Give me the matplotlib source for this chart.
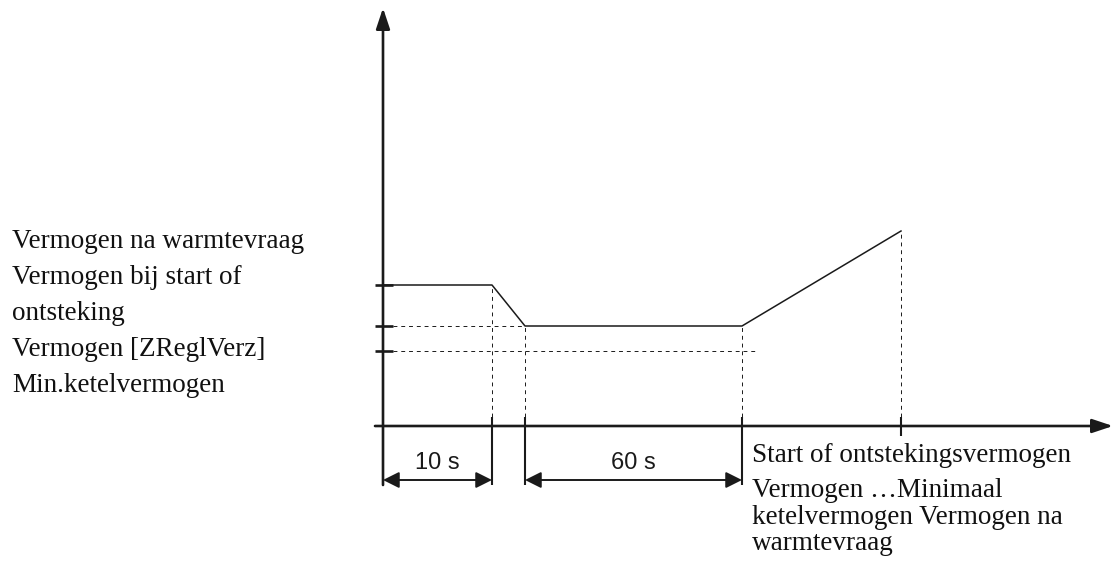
import matplotlib.pyplot as plt

# schematic time points (y-axis at 0) and power levels (x-axis at 0)
t_points = [0.0, 1.09, 1.42, 3.59, 5.18]
p_start = 1.41      # Vermogen bij start of ontsteking
p_regl = 1.00       # Vermogen [ZReglVerz]
p_min = 0.75        # Min.ketelvermogen
p_end = 1.95        # Vermogen na warmtevraag
power = [p_start, p_start, p_regl, p_regl, p_end]

left_labels = ["Vermogen na warmtevraag", "Vermogen bij start of", "ontsteking",
               "Vermogen [ZReglVerz]", "Min.ketelvermogen"]
right_labels = ["Start of ontstekingsvermogen", "Vermogen \u2026Minimaal",
                "ketelvermogen Vermogen na", "warmtevraag"]
intervals = [(t_points[0], t_points[1], "10 s"), (t_points[2], t_points[3], "60 s")]

fig = plt.figure(figsize=(11.14, 5.63), dpi=100)
ax = fig.add_axes([0, 0, 1, 1])
ax.set_xlim(-3.83, 7.31)
ax.set_ylim(-1.37, 4.26)
ax.axis('off')

axis_lw = 1.9
ext_bottom, ext_top = -0.59, 0.09
arrow_y = -0.54

# axes with arrow heads
ax.annotate('', xy=(0, 4.18), xytext=(0, ext_bottom),
            arrowprops=dict(arrowstyle='-|>,head_length=0.9,head_width=0.3',
                            mutation_scale=14, lw=axis_lw, color='#1a1a1a',
                            shrinkA=0, shrinkB=0))
ax.annotate('', xy=(7.30, 0), xytext=(-0.08, 0),
            arrowprops=dict(arrowstyle='-|>,head_length=0.9,head_width=0.3',
                            mutation_scale=14, lw=axis_lw, color='#1a1a1a',
                            shrinkA=0, shrinkB=0))

# y ticks at the power levels
for p in [p_start, p_regl, p_min]:
    ax.plot([-0.08, 0.10], [p, p], color='#1a1a1a', lw=axis_lw, solid_capstyle='butt')

# power curve
ax.plot(t_points, power, color='#1a1a1a', lw=1.1)

# dashed helper lines
dash = dict(color='#1a1a1a', lw=0.7, linestyle=(0, (4, 4)))
ax.plot([0.10, t_points[2]], [p_regl, p_regl], **dash)
ax.plot([0.10, 3.74], [p_min, p_min], **dash)
for t, p in zip(t_points[1:], power[1:]):
    ax.plot([t, t], [ext_top, p], **dash)

# extension lines below the x-axis
for t in t_points[1:4]:
    ax.plot([t, t], [ext_top, ext_bottom], color='#1a1a1a', lw=1.5, solid_capstyle='butt')
ax.plot([t_points[4], t_points[4]], [0.09, -0.10], color='#1a1a1a', lw=1.5,
        solid_capstyle='butt')

# dimension arrows
for t0, t1, lab in intervals:
    ax.annotate('', xy=(t0, arrow_y), xytext=(t1, arrow_y),
                arrowprops=dict(arrowstyle='<|-|>,head_length=0.7,head_width=0.35',
                                mutation_scale=14, lw=1.4, color='#1a1a1a',
                                shrinkA=0, shrinkB=0))
    ax.text((t0 + t1) / 2, -0.37, lab, ha='center', va='center',
            fontsize=17, family='Liberation Sans', color='#1a1a1a')

# text labels
left_y = [1.78, 1.42, 1.06, 0.70, 0.34]
for y, lab in zip(left_y, left_labels):
    ax.text(-3.71, y, lab, ha='left', va='baseline', fontsize=19.5,
            family='Liberation Serif', color='#111111')

right_y = [-0.36, -0.71, -0.98, -1.24]
for y, lab in zip(right_y, right_labels):
    ax.text(3.69, y, lab, ha='left', va='baseline', fontsize=19.5,
            family='Liberation Serif', color='#111111')

plt.savefig('out.png', dpi=100)
